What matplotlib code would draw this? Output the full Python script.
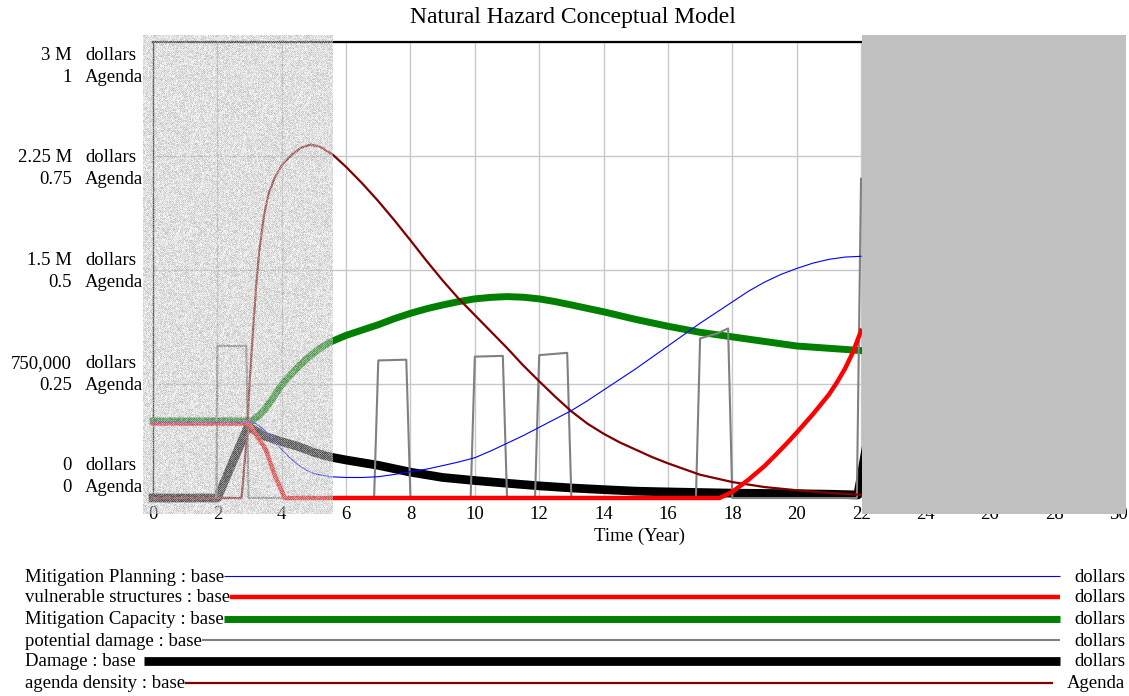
import matplotlib
matplotlib.use('Agg')
import numpy as np
import matplotlib.pyplot as plt
from matplotlib.patches import Rectangle
from matplotlib.lines import Line2D

plt.rcParams['font.family'] = ['Liberation Serif', 'DejaVu Serif']

# ---------------- data (dollars in millions, agenda in Agenda units) ----------------
planning_t = [0, 1, 2, 3, 3.2, 3.5, 3.75, 4, 4.25, 4.5, 4.75, 5, 5.5, 6, 6.5, 7, 7.5, 8, 8.5,
              9, 9.5, 10, 10.5, 11, 11.5, 12, 12.5, 13, 13.5, 14, 14.5, 15, 15.5, 16, 16.5,
              17, 17.5, 18, 18.5, 19, 19.5, 20, 20.5, 21, 21.5, 22]
planning_v = [0.5, 0.5, 0.5, 0.5, 0.49, 0.44, 0.38, 0.32, 0.265, 0.22, 0.185, 0.16, 0.14,
              0.135, 0.135, 0.14, 0.155, 0.173, 0.19, 0.213, 0.237, 0.265, 0.31, 0.36, 0.41,
              0.465, 0.52, 0.575, 0.64, 0.71, 0.78, 0.85, 0.925, 1.0, 1.075, 1.15, 1.22,
              1.29, 1.36, 1.42, 1.47, 1.51, 1.545, 1.57, 1.585, 1.59]

vulnerable_t = [0, 3, 3.1, 3.5, 3.8, 4.1, 17.6, 18, 18.25, 18.5, 18.75, 19, 19.25, 19.5,
                19.75, 20, 20.25, 20.5, 20.75, 21, 21.25, 21.5, 21.75, 22]
vulnerable_v = [0.49, 0.49, 0.45, 0.32, 0.14, 0.0, 0.0, 0.04, 0.08, 0.12, 0.165, 0.21, 0.263,
                0.317, 0.372, 0.43, 0.49, 0.55, 0.615, 0.68, 0.76, 0.85, 0.96, 1.1]

capacity_t = [0, 3, 3.1, 3.3, 3.5, 3.75, 4, 4.25, 4.5, 4.75, 5, 5.25, 5.5, 6, 6.5, 7, 7.5, 8,
              8.5, 9, 9.5, 10, 10.5, 11, 11.5, 12, 12.5, 13, 14, 15, 16, 17, 18, 19, 20, 21, 22]
capacity_v = [0.507, 0.507, 0.51, 0.545, 0.59, 0.665, 0.745, 0.805, 0.86, 0.91, 0.955, 0.993,
              1.025, 1.07, 1.105, 1.14, 1.18, 1.215, 1.245, 1.27, 1.292, 1.31, 1.32, 1.325,
              1.321, 1.31, 1.292, 1.27, 1.225, 1.175, 1.13, 1.09, 1.06, 1.03, 1.0, 0.985, 0.97]

potential_t = [0, 1.97, 2.0, 2.9, 2.97, 6.87, 7.0, 7.87, 8.0, 9.87, 10.0, 10.87, 11.0,
               11.87, 12.0, 12.87, 13.0, 16.87, 17.0, 17.5, 17.87, 18.0, 21.87, 22.0]
potential_v = [0, 0, 1.0, 1.0, 0, 0, 0.905, 0.91, 0, 0, 0.93, 0.935, 0, 0, 0.94, 0.955, 0,
               0, 1.05, 1.08, 1.115, 0, 0, 2.1]

damage_t = [0, 2, 2.95, 3.5, 4, 4.5, 5, 5.5, 6, 7, 8, 9, 10, 11, 12, 13, 14, 15, 16, 17,
            18, 19, 20, 21, 21.9, 22.3]
damage_v = [0, 0, 0.47, 0.405, 0.37, 0.34, 0.3, 0.27, 0.25, 0.215, 0.17, 0.135, 0.115,
            0.097, 0.08, 0.066, 0.055, 0.045, 0.04, 0.036, 0.032, 0.03, 0.028, 0.025, 0.02, 0.5]

agenda_t = [0, 2.75, 2.9, 3.0, 3.1, 3.2, 3.3, 3.45, 3.6, 3.8, 4.0, 4.3, 4.6, 4.9, 5.2, 5.6,
            6, 6.5, 7, 7.5, 8, 8.5, 9, 9.5, 10, 10.5, 11, 11.5, 12, 12.5, 13, 13.5, 14, 14.5,
            15, 15.5, 16, 17, 18, 19, 20, 21, 22]
agenda_v = [0, 0, 0.12, 0.25, 0.36, 0.46, 0.54, 0.62, 0.67, 0.705, 0.73, 0.752, 0.768,
            0.775, 0.77, 0.752, 0.726, 0.69, 0.651, 0.609, 0.565, 0.52, 0.477, 0.437, 0.401,
            0.365, 0.329, 0.291, 0.256, 0.222, 0.19, 0.163, 0.141, 0.122, 0.106, 0.09, 0.076,
            0.051, 0.035, 0.024, 0.017, 0.011, 0.007]

dollar_ticks = [0, 0.75, 1.5, 2.25, 3.0]
dollar_labels = ['0', '750,000', '1.5 M', '2.25 M', '3 M']
agenda_labels = ['0', '0.25', '0.5', '0.75', '1']
x_ticks = list(range(0, 31, 2))

legend_names = ['Mitigation Planning : base', 'vulnerable structures : base',
                'Mitigation Capacity : base', 'potential damage : base',
                'Damage : base', 'agenda density : base']
legend_units = ['dollars', 'dollars', 'dollars', 'dollars', 'dollars', 'Agenda']

# ---------------- figure ----------------
W, H = 1129, 696
fig = plt.figure(figsize=(W / 100, H / 100), dpi=100)


def fx(px):
    return px / W


def fy(py):
    return 1 - py / H


FS = 13.5
ax = fig.add_axes([fx(153), fy(498), fx(1118.5) - fx(153), fy(42) - fy(498)])
ax2 = ax.twinx()
ax2.set_ylim(0, 1)
ax2.axis('off')

colors = ['#0000FF', '#FF0000', '#008000', '#808080', '#000000', '#800000']
widths = [0.8, 3.2, 5.0, 1.5, 6.3, 1.6]

ax.plot(damage_t, damage_v, color=colors[4], lw=widths[4], zorder=2, clip_on=False)
ax.plot(capacity_t, capacity_v, color=colors[2], lw=widths[2], zorder=3, clip_on=False)
ax.plot(potential_t, potential_v, color=colors[3], lw=widths[3], zorder=4, clip_on=False)
ax.plot(agenda_t, agenda_v, color=colors[5], lw=widths[5], zorder=5, clip_on=False,
        transform=ax2.transData)
ax.plot(vulnerable_t, vulnerable_v, color=colors[1], lw=widths[1], zorder=6, clip_on=False)
ax.plot(planning_t, planning_v, color=colors[0], lw=widths[0], zorder=7, clip_on=False)

ax.set_xlim(0, 30)
ax.set_ylim(0, 3.0)
ax.set_xticks(x_ticks)
ax.set_xticklabels([str(t) for t in x_ticks], fontsize=FS)
ax.set_yticks(dollar_ticks)
ax.set_yticklabels([])
ax.tick_params(length=0, pad=6)
ax.grid(True, color='#c8c8c8', lw=1.0, zorder=0)
ax.set_axisbelow(True)
for s in ['bottom', 'right']:
    ax.spines[s].set_visible(False)
ax.spines['top'].set_color('black')
ax.spines['top'].set_linewidth(1.6)
ax.spines['left'].set_color('black')
ax.spines['left'].set_linewidth(1.0)

# y labels (two lines per tick, spread as in the reference)
for i in range(5):
    yd = 55 + i * 102.75
    ya = yd + 22
    j = 4 - i
    fig.text(fx(72), fy(yd), dollar_labels[j], ha='right', va='center', fontsize=FS)
    fig.text(fx(85), fy(yd), 'dollars', ha='left', va='center', fontsize=FS)
    fig.text(fx(72), fy(ya), agenda_labels[j], ha='right', va='center', fontsize=FS)
    fig.text(fx(85), fy(ya), 'Agenda', ha='left', va='center', fontsize=FS)

fig.text(fx(573), fy(18), 'Natural Hazard Conceptual Model', ha='center', va='center',
         fontsize=17)
fig.text(fx(640), fy(536), 'Time (Year)', ha='center', va='center', fontsize=FS)

# shaded (stippled) overlay on the left part: deterministic speckle texture
sh_w, sh_h = 190, 479
ii, jj = np.mgrid[0:sh_h, 0:sh_w]
pattern = ((ii * 7 + jj * 13 + (ii * jj) % 11 + (ii * ii * 3 + jj * jj * 5) % 17) % 9) / 8.0
grey = 0.64 + 0.30 * pattern
tex = np.zeros((sh_h, sh_w, 4))
tex[..., 0] = grey
tex[..., 1] = grey
tex[..., 2] = grey
tex[..., 3] = 0.45 + 0.25 * ((ii + jj) % 2)
fig.figimage(tex, xo=143, yo=H - 514, zorder=10, origin='upper')

# grey box on the right
fig.add_artist(Rectangle((fx(862), fy(514)), fx(1126) - fx(862), fy(35) - fy(514),
                         transform=fig.transFigure, facecolor='#c0c0c0',
                         edgecolor='none', zorder=12))

# legend
rows = [577, 598, 620, 641, 662, 684]
line_end = [1060, 1060, 1060, 1060, 1060, 1053]
renderer = fig.canvas.get_renderer()
for i in range(6):
    t = fig.text(fx(25), fy(rows[i]), legend_names[i], ha='left', va='center', fontsize=FS)
    fig.text(fx(1125), fy(rows[i]), legend_units[i], ha='right', va='center', fontsize=FS)
    bb = t.get_window_extent(renderer)
    x0 = bb.x1 + (8 if i == 4 else 0)
    fig.add_artist(Line2D([fx(x0), fx(line_end[i])], [fy(rows[i] - 1), fy(rows[i] - 1)],
                          transform=fig.transFigure, color=colors[i], lw=widths[i],
                          solid_capstyle='butt'))

fig.savefig('out.png', dpi=100)
